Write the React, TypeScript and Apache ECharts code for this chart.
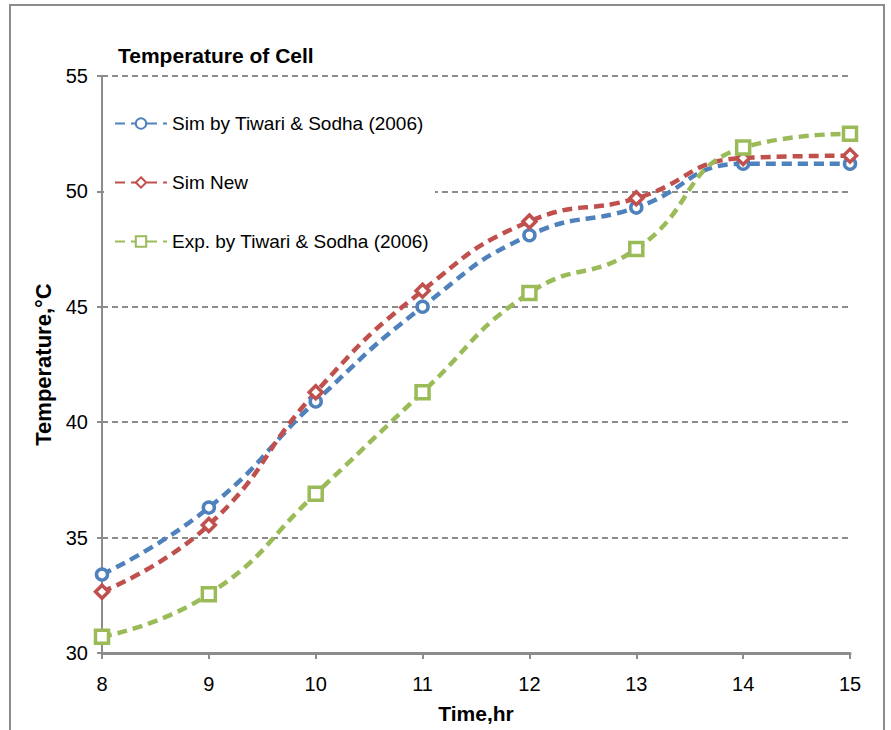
import React, { useEffect, useRef } from "react";
import * as echarts from "echarts";

const hours = ["8", "9", "10", "11", "12", "13", "14", "15"];
const simTiwari = [33.4, 36.3, 40.9, 45.0, 48.1, 49.3, 51.2, 51.2];
const simNew = [32.65, 35.55, 41.3, 45.7, 48.7, 49.7, 51.45, 51.55];
const expTiwari = [30.7, 32.55, 36.9, 41.3, 45.6, 47.5, 51.9, 52.5];
const yTicks = { min: 30, max: 55, interval: 5 };

const names = [
  "Sim by Tiwari & Sodha (2006)",
  "Sim New",
  "Exp. by Tiwari & Sodha (2006)",
];

const FONT = "'Liberation Sans', Arial, sans-serif";

export default function App() {
  const ref = useRef<HTMLDivElement>(null);
  useEffect(() => {
    if (!ref.current) return;
    const chart = echarts.init(ref.current, undefined, { renderer: "svg" });
    const mk = (name: string, data: number[], color: string, symbol: string, size: number) => ({
      name,
      type: "line",
      data,
      smooth: 0.5,
      symbol,
      symbolSize: size,
      lineStyle: { color, width: 4.5, type: [10, 6] },
      itemStyle: { color: "#fff", borderColor: color, borderWidth: 3.5 },
      z: 5,
    });
    chart.setOption({
      animation: false,
      backgroundColor: "#fff",
      title: {
        text: "Temperature of Cell",
        left: 113,
        top: 40,
        textStyle: { fontFamily: FONT, fontWeight: "bold", fontSize: 21, color: "#000" },
      },
      graphic: [
        {
          type: "rect",
          shape: { x: 10, y: 5, width: 874, height: 745 },
          style: { fill: "none", stroke: "#8c8c8c", lineWidth: 2 },
          silent: true,
        },
      ],
      legend: {
        orient: "vertical",
        left: 104,
        top: 104,
        itemGap: 40,
        itemWidth: 52,
        itemHeight: 13,
        padding: [10, 6, 10, 10],
        backgroundColor: "#fff",
        data: names,
        textStyle: { fontFamily: FONT, fontSize: 19, color: "#000" },
        z: 1,
      },
      grid: { left: 102, right: 41, top: 76, bottom: 77, containLabel: false },
      xAxis: {
        type: "category",
        data: hours,
        boundaryGap: false,
        name: "Time,hr",
        nameLocation: "middle",
        nameGap: 50,
        nameTextStyle: { fontFamily: FONT, fontWeight: "bold", fontSize: 21, color: "#000" },
        axisLine: { lineStyle: { color: "#8c8c8c", width: 3 } },
        axisTick: { show: true, length: 6, lineStyle: { color: "#8c8c8c", width: 2 } },
        axisLabel: { fontFamily: FONT, fontSize: 20, color: "#000", margin: 21 },
        splitLine: { show: false },
        z: 0,
      },
      yAxis: {
        type: "value",
        min: yTicks.min,
        max: yTicks.max,
        interval: yTicks.interval,
        name: "Temperature,°C",
        nameLocation: "middle",
        nameGap: 48,
        nameRotate: 90,
        nameTextStyle: { fontFamily: FONT, fontWeight: "bold", fontSize: 22, color: "#000" },
        axisLine: { show: true, lineStyle: { color: "#8c8c8c", width: 2 } },
        axisTick: { show: true, length: 5, lineStyle: { color: "#8c8c8c", width: 2 } },
        axisLabel: { fontFamily: FONT, fontSize: 20, color: "#000", margin: 14 },
        splitLine: { show: true, lineStyle: { color: "#8c8c8c", width: 2, type: [6, 4] } },
        z: 0,
      },
      series: [
        mk(names[0], simTiwari, "#4F81BD", "circle", 11),
        mk(names[1], simNew, "#C0504D", "diamond", 13),
        mk(names[2], expTiwari, "#9BBB59", "rect", 13),
      ],
    });
    return () => chart.dispose();
  }, []);
  return (
    <div
      ref={ref}
      style={{ position: "fixed", left: 0, top: 0, width: 891, height: 730 }}
    />
  );
}
